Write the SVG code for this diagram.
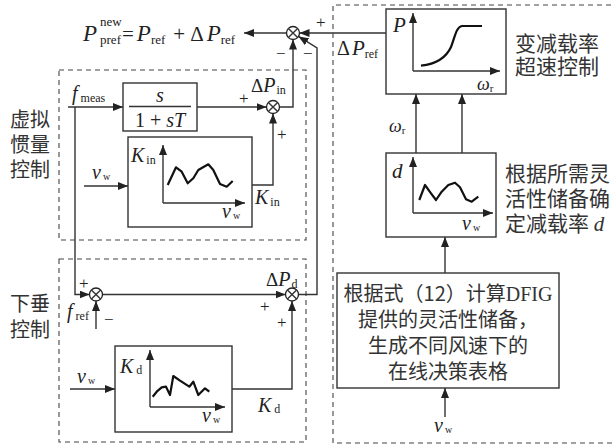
<svg xmlns="http://www.w3.org/2000/svg" width="614" height="448" viewBox="0 0 614 448">
<defs>
<marker id="ar" markerWidth="10" markerHeight="8" refX="10" refY="4" orient="auto" markerUnits="userSpaceOnUse">
<path d="M0,0 L10,4 L0,8 Z" fill="#222"/>
</marker>
<style>
.ln{fill:none;stroke:#333;stroke-width:1.4}
.cn{fill:none;stroke:#333;stroke-width:1.4;marker-end:url(#ar)}
.dash{fill:none;stroke:#444;stroke-width:1.1;stroke-dasharray:5,4}
.box{fill:#fff;stroke:#333;stroke-width:1.4}
.crv{fill:none;stroke:#111;stroke-width:2.2;stroke-linejoin:round}
.sum{fill:#fff;stroke:#222;stroke-width:1.3}
text{font-family:"Liberation Serif","Noto Sans CJK SC",serif;fill:#222}
.it{font-style:italic}
.sb{font-size:12px;font-style:normal}
.cj{font-family:"Noto Sans CJK SC","Noto Sans CJK JP",sans-serif;font-size:20px;fill:#333}
.cj2{font-family:"Noto Sans CJK SC","Noto Sans CJK JP",sans-serif;font-size:21px;fill:#333}
.pm{font-size:17px}
</style>
</defs>

<!-- dashed regions -->
<g id="region-inertia"><rect class="dash" x="59" y="70" width="247" height="170"/></g>
<g id="region-droop"><rect class="dash" x="59" y="259" width="247" height="183"/></g>
<g id="region-overspeed"><path class="dash" d="M620,5 L333,5 L333,443 L620,443"/></g>

<!-- side labels -->
<g id="label-inertia">
<text class="cj" x="10" y="127">虚拟</text>
<text class="cj" x="10" y="152">惯量</text>
<text class="cj" x="10" y="177">控制</text>
</g>
<g id="label-droop">
<text class="cj" x="10" y="311">下垂</text>
<text class="cj" x="10" y="337">控制</text>
</g>
<g id="label-overspeed">
<text class="cj2" x="515" y="51">变减载率</text>
<text class="cj2" x="515" y="74">超速控制</text>
</g>
<g id="label-d">
<text class="cj2" x="505" y="181">根据所需灵</text>
<text class="cj2" x="505" y="206">活性储备确</text>
<text class="cj2" x="505" y="231">定减载率 <tspan class="it" font-family="Liberation Serif">d</tspan></text>
</g>

<!-- connectors -->
<g id="connectors">
<line class="cn" x1="386" y1="33" x2="299.5" y2="33"/>
<line class="cn" x1="286.5" y1="33" x2="244" y2="33"/>
<path class="cn" d="M279.5,107 L293,107 L293,39.5"/>
<path class="cn" d="M298.5,294.5 L317,294.5 L317,48 L298.5,36.4"/>
<line class="cn" x1="68" y1="107" x2="123" y2="107"/>
<line class="cn" x1="197" y1="107" x2="266.5" y2="107"/>
<path class="cn" d="M252,185 L273,185 L273,113.5"/>
<line class="cn" x1="84" y1="186" x2="128" y2="186"/>
<path class="cn" d="M75,107 L75,294.5 L89.5,294.5"/>
<line class="cn" x1="96" y1="329" x2="96" y2="301"/>
<line class="cn" x1="102.5" y1="294.5" x2="285.5" y2="294.5"/>
<path class="cn" d="M232,389 L292,389 L292,301"/>
<line class="cn" x1="70" y1="389" x2="115" y2="389"/>
<line class="cn" x1="416" y1="153" x2="416" y2="94"/>
<line class="cn" x1="462" y1="153" x2="462" y2="94"/>
<line class="cn" x1="445" y1="273" x2="445" y2="237"/>
<line class="cn" x1="445" y1="417" x2="445" y2="388"/>
</g>

<!-- summing junctions -->
<g id="sum-top">
<circle class="sum" cx="293" cy="33" r="6.5"/>
<path class="ln" d="M288.4,28.4 L297.6,37.6 M297.6,28.4 L288.4,37.6" stroke-width="1.1"/>
<text class="pm" x="316" y="28">+</text>
<text class="pm" x="276" y="59">−</text>
<text class="pm" x="303" y="59">−</text>
</g>
<g id="sum-inertia">
<circle class="sum" cx="273" cy="107" r="6.5"/>
<path class="ln" d="M268.4,102.4 L277.6,111.6 M277.6,102.4 L268.4,111.6" stroke-width="1.1"/>
<text class="pm" x="239" y="104">+</text>
<text class="pm" x="277" y="140">+</text>
</g>
<g id="sum-droop1">
<circle class="sum" cx="96" cy="294.5" r="6.5"/>
<path class="ln" d="M91.4,289.9 L100.6,299.1 M100.6,289.9 L91.4,299.1" stroke-width="1.1"/>
<text class="pm" x="79" y="289">+</text>
<text class="pm" x="104" y="325">−</text>
</g>
<g id="sum-droop2">
<circle class="sum" cx="292" cy="294.5" r="6.5"/>
<path class="ln" d="M287.4,289.9 L296.6,299.1 M296.6,289.9 L287.4,299.1" stroke-width="1.1"/>
<text class="pm" x="260" y="312">+</text>
<text class="pm" x="277" y="328">+</text>
</g>

<!-- formula and labels -->
<g id="label-formula">
<text x="83" y="41" font-size="23"><tspan class="it">P</tspan><tspan font-size="13" dy="-15" dx="3">new</tspan><tspan font-size="13" dx="-21.7" dy="18">pref</tspan><tspan dy="-3" dx="1" font-size="21">=</tspan><tspan class="it" dx="3">P</tspan><tspan font-size="13" dy="3">ref</tspan><tspan dy="-3" dx="8" font-size="21">+</tspan><tspan dx="5" font-size="21">Δ</tspan><tspan class="it" dx="3">P</tspan><tspan font-size="13" dy="3">ref</tspan></text>
</g>
<g id="label-dpref"><text x="337" y="55" font-size="20">Δ<tspan class="it" dx="2" font-size="21">P</tspan><tspan class="sb" dy="3" font-size="13">ref</tspan></text></g>
<g id="label-fmeas"><text x="72" y="100" font-size="20"><tspan class="it">f</tspan><tspan class="sb" dx="3" dy="2">meas</tspan></text></g>
<g id="label-dpin"><text x="251" y="92" font-size="19">Δ<tspan class="it" font-size="20">P</tspan><tspan class="sb" dy="2" dx="1">in</tspan></text></g>
<g id="label-kin-out"><text x="255" y="204" font-size="20"><tspan class="it">K</tspan><tspan class="sb" dx="2" dy="2">in</tspan></text></g>
<g id="label-vw1"><text x="92" y="179" font-size="20"><tspan class="it">v</tspan><tspan font-size="10" dx="2" dy="1">w</tspan></text></g>
<g id="label-dpd"><text x="266" y="286" font-size="19">Δ<tspan class="it" font-size="20">P</tspan><tspan class="sb" dy="2" dx="1">d</tspan></text></g>
<g id="label-fref"><text x="67" y="318" font-size="20"><tspan class="it">f</tspan><tspan class="sb" dx="3" dy="2">ref</tspan></text></g>
<g id="label-kd-out"><text x="258" y="412" font-size="20"><tspan class="it">K</tspan><tspan class="sb" dx="3" dy="1">d</tspan></text></g>
<g id="label-vw2"><text x="77" y="383" font-size="20"><tspan class="it">v</tspan><tspan font-size="10" dx="2" dy="1">w</tspan></text></g>
<g id="label-wr"><text x="389" y="132" font-size="18"><tspan class="it">ω</tspan><tspan font-size="11" dy="2">r</tspan></text></g>
<g id="label-vw3"><text x="434" y="432" font-size="20"><tspan class="it">v</tspan><tspan font-size="10" dx="2" dy="1">w</tspan></text></g>

<!-- transfer function block -->
<g id="node-tf">
<rect class="box" x="123" y="83" width="74" height="48"/>
<text class="it" x="160" y="102" font-size="20" text-anchor="middle">s</text>
<line class="ln" x1="129" y1="106.5" x2="191" y2="106.5" stroke-width="1.2"/>
<text x="160" y="127" font-size="20" text-anchor="middle">1 + <tspan class="it">sT</tspan></text>
</g>

<!-- K_in table -->
<g id="node-kin">
<rect class="box" x="128" y="137" width="124" height="90"/>
<line class="cn" x1="163" y1="203" x2="163" y2="145"/>
<line class="cn" x1="163" y1="203" x2="245" y2="203"/>
<polyline class="crv" points="167.7,185 176,167.3 181.7,171.7 187.7,183.3 193.3,178.3 198.3,170 208.3,164.3 213.3,170 220,184 226.7,186.7 232.7,181"/>
<text x="131" y="162" font-size="20"><tspan class="it">K</tspan><tspan class="sb" dx="2" dy="2">in</tspan></text>
<text x="222" y="218" font-size="20"><tspan class="it">v</tspan><tspan font-size="10" dx="2" dy="1">w</tspan></text>
</g>

<!-- K_d table -->
<g id="node-kd">
<rect class="box" x="115" y="346" width="117" height="86"/>
<line class="cn" x1="150" y1="407" x2="150" y2="350"/>
<line class="cn" x1="150" y1="407" x2="225" y2="407"/>
<polyline class="crv" points="152.7,396.7 156.7,391.7 161.7,387.3 166,386.7 170,395 173.3,376 180,380.7 189.3,386.7 193.3,381.7 198.3,395 205,388.3 209.3,391.7"/>
<text x="120" y="373" font-size="20"><tspan class="it">K</tspan><tspan class="sb" dx="3" dy="1">d</tspan></text>
<text x="202" y="422" font-size="20"><tspan class="it">v</tspan><tspan font-size="10" dx="2" dy="1">w</tspan></text>
</g>

<!-- P-omega curve -->
<g id="node-p">
<rect class="box" x="386" y="9" width="120" height="85"/>
<line class="cn" x1="413" y1="71" x2="413" y2="13"/>
<line class="cn" x1="413" y1="71" x2="500" y2="71"/>
<path class="crv" d="M421,65.7 C436,64 446,58 451,47 C455,37 456,27 462,26 L482,26"/>
<text class="it" x="393" y="32" font-size="21">P</text>
<text x="477" y="90" font-size="18"><tspan class="it">ω</tspan><tspan font-size="11" dy="2">r</tspan></text>
</g>

<!-- d table -->
<g id="node-d">
<rect class="box" x="386" y="153" width="110" height="84"/>
<line class="cn" x1="413" y1="213" x2="413" y2="157"/>
<line class="cn" x1="413" y1="213" x2="493" y2="213"/>
<polyline class="crv" points="419.3,200 425,185 431,193.3 436,200 441.7,191.7 448.3,185 455,182.7 460,187.3 466,199.3 471.7,201.7 478.3,196.7"/>
<text class="it" x="392" y="178" font-size="21">d</text>
<text x="462" y="230" font-size="20"><tspan class="it">v</tspan><tspan font-size="10" dx="2" dy="1">w</tspan></text>
</g>

<!-- computation block -->
<g id="node-calc">
<rect class="box" x="337" y="273" width="222" height="115"/>
<text class="cj" x="448" y="301" text-anchor="middle">根据式（12）计算<tspan font-family="Liberation Serif">DFIG</tspan></text>
<text class="cj" x="448" y="327" text-anchor="middle">提供的灵活性储备，</text>
<text class="cj" x="448" y="353" text-anchor="middle">生成不同风速下的</text>
<text class="cj" x="448" y="379" text-anchor="middle">在线决策表格</text>
</g>
</svg>
